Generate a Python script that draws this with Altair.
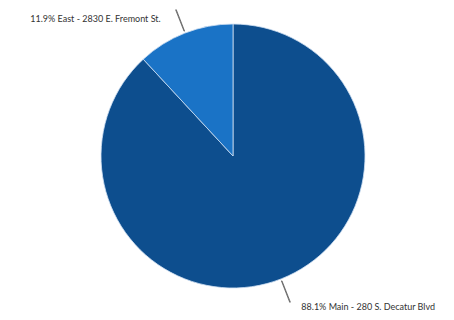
import altair as alt
import pandas as pd

locations = ["Main - 280 S. Decatur Blvd", "East - 2830 E. Fremont St."]
shares = [88.1, 11.9]
labels = ["88.1% Main - 280 S. Decatur Blvd", "11.9% East - 2830 E. Fremont St."]
order = [0, 1]
colors = ["#0d4e8e", "#1a73c6"]

df = pd.DataFrame({"loc": locations, "share": shares, "label": labels, "ord": order})

CX, CY = 225, 148
R = 132

base = alt.Chart(df).transform_joinaggregate(
    total="sum(share)"
).transform_window(
    cum="sum(share)", sort=[alt.SortField("ord")]
).transform_calculate(
    mid="(datum.cum - datum.share / 2) / datum.total * 2 * PI",
    mid2="(datum.cum - datum.share / 2) / datum.total * 2 * PI + 0.004",
)

pie = alt.Chart(df).mark_arc(stroke="#cfe0f2", strokeWidth=0.8).encode(
    theta=alt.Theta("share:Q", stack=True),
    order=alt.Order("ord:Q"),
    color=alt.Color("loc:N", scale=alt.Scale(domain=locations, range=colors), legend=None),
    radius=alt.value(R),
    x=alt.value(CX),
    y=alt.value(CY),
)

leaders = base.mark_arc(fill=None, stroke="#555555", strokeWidth=0.8).encode(
    theta=alt.Theta("mid:Q", scale=None),
    theta2="mid2:Q",
    radius=alt.value(R + 2),
    radius2=alt.value(R + 25),
    x=alt.value(CX),
    y=alt.value(CY),
)

text_east = base.transform_filter("datum.ord == 1").mark_text(
    align="right", baseline="middle", font="Lato", fontSize=9, color="#333333", dx=-15, dy=9
).encode(
    theta=alt.Theta("mid:Q", scale=None),
    radius=alt.value(R + 25),
    text="label:N",
    x=alt.value(CX),
    y=alt.value(CY),
)

text_main = base.transform_filter("datum.ord == 0").mark_text(
    align="left", baseline="middle", font="Lato", fontSize=9, color="#333333", dx=11, dy=5
).encode(
    theta=alt.Theta("mid:Q", scale=None),
    radius=alt.value(R + 25),
    text="label:N",
    x=alt.value(CX),
    y=alt.value(CY),
)

chart = alt.layer(pie, leaders, text_east, text_main).properties(
    width=438, height=304, padding=0, autosize=alt.AutoSizeParams(type="none")
).configure(background="white").configure_view(stroke=None)

chart.save("out.html", embed_options={"renderer": "svg", "actions": False})
